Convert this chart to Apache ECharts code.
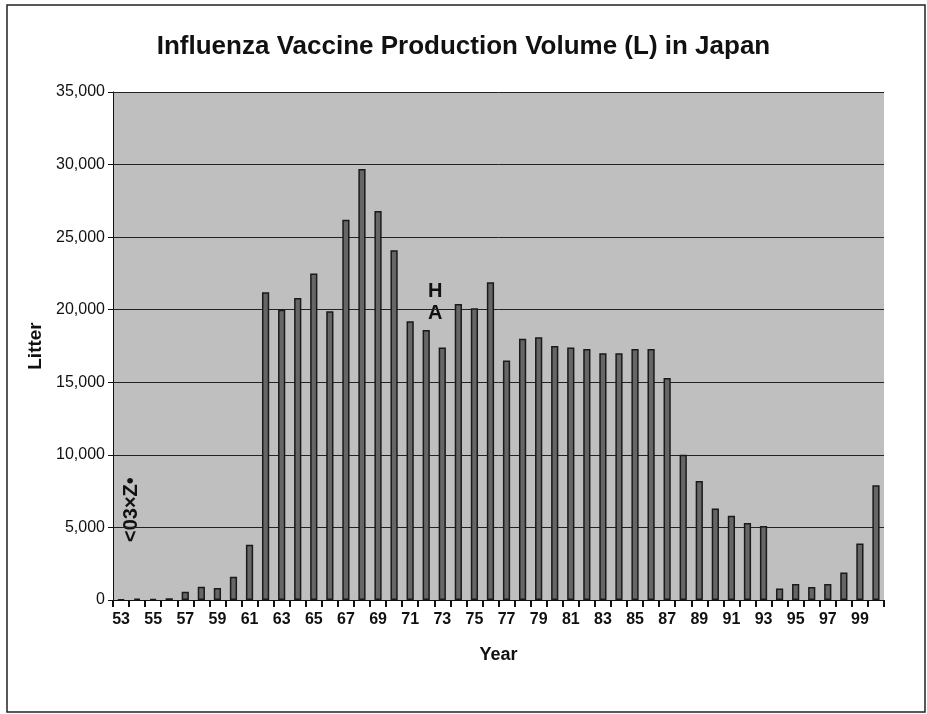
<!DOCTYPE html>
<html>
<head>
<meta charset="utf-8">
<script src="https://cdn.jsdelivr.net/npm/echarts@6/dist/echarts.min.js"></script>
<style>
  html, body { margin: 0; padding: 0; background: #fff; }
  #chart { width: 927px; height: 714px; }
</style>
</head>
<body>
<div id="chart"></div>
<script>
// years 1953 - 2000, shown as two digits
const years = ['53','54','55','56','57','58','59','60','61','62',
    '63','64','65','66','67','68','69','70','71','72',
    '73','74','75','76','77','78','79','80','81','82',
    '83','84','85','86','87','88','89','90','91','92',
    '93','94','95','96','97','98','99','00'];

// production volume in litres
const litres = [50, 100, 80, 120, 570, 920, 830, 1600, 3800, 21200,
    20000, 20800, 22500, 19900, 26200, 29700, 26800, 24100, 19200, 18600,
    17400, 20400, 20100, 21900, 16500, 18000, 18100, 17500, 17400, 17300,
    17000, 17000, 17300, 17300, 15300, 10000, 8200, 6300, 5800, 5300,
    5100, 800, 1100, 900, 1100, 1900, 3900, 7900];

const yTicks = [0, 5000, 10000, 15000, 20000, 25000, 30000, 35000];

const fontNarrow = '"Liberation Sans Narrow", "Arial Narrow", "Liberation Sans", Arial, sans-serif';

let chart = echarts.init(document.getElementById('chart'));

let option = {
    backgroundColor: '#ffffff',
    animation: false,
    title: {
        text: 'Influenza Vaccine Production Volume (L) in Japan',
        left: 'center',
        top: 29,
        textStyle: {
            fontFamily: fontNarrow,
            fontWeight: 'bold',
            fontSize: 26,
            color: '#111'
        }
    },
    grid: {
        left: 113,
        right: 43,
        top: 92,
        bottom: 114,
        show: true,
        backgroundColor: '#bfbfbf',
        borderWidth: 0
    },
    xAxis: {
        type: 'category',
        data: years,
        name: 'Year',
        nameLocation: 'middle',
        nameGap: 46,
        nameTextStyle: {
            fontFamily: fontNarrow,
            fontWeight: 'bold',
            fontSize: 18,
            color: '#111'
        },
        axisLine: { lineStyle: { color: '#111', width: 1 } },
        axisTick: { show: true, interval: 0, length: 7, lineStyle: { color: '#111', width: 2 } },
        axisLabel: {
            interval: 1,
            margin: 12,
            fontFamily: fontNarrow,
            fontWeight: 'bold',
            fontSize: 16,
            color: '#111'
        }
    },
    yAxis: {
        type: 'value',
        min: yTicks[0],
        max: yTicks[yTicks.length - 1],
        interval: 5000,
        name: 'Litter',
        nameLocation: 'middle',
        nameGap: 62,
        nameTextStyle: {
            fontFamily: fontNarrow,
            fontWeight: 'bold',
            fontSize: 19,
            color: '#111'
        },
        axisLine: { show: true, lineStyle: { color: '#111', width: 1 } },
        axisTick: { show: true, length: 5, lineStyle: { color: '#111' } },
        axisLabel: {
            margin: 8,
            fontFamily: fontNarrow,
            fontSize: 16,
            color: '#111',
            formatter: (v) => v.toLocaleString('en-US')
        },
        splitLine: { show: true, lineStyle: { color: '#222', width: 1 } }
    },
    series: [
        {
            type: 'bar',
            data: litres,
            barWidth: '45%',
            itemStyle: {
                color: '#666666',
                borderColor: '#1a1a1a',
                borderWidth: 1.5
            }
        }
    ],
    graphic: [
        {
            type: 'rect',
            shape: { x: 7, y: 5, width: 918, height: 707 },
            style: { fill: 'none', stroke: '#222', lineWidth: 1.5 },
            silent: true
        },
        {
            type: 'text',
            left: 428,
            top: 280,
            style: {
                text: 'H\nA',
                fontFamily: fontNarrow,
                fontWeight: 'bold',
                fontSize: 20,
                lineHeight: 22,
                fill: '#111'
            }
        },
        {
            type: 'text',
            x: 121,
            y: 542,
            rotation: Math.PI / 2,
            style: {
                text: '<03×Z•',
                fontFamily: fontNarrow,
                fontWeight: 'bold',
                fontSize: 20,
                fill: '#111'
            }
        }
    ]
};

chart.setOption(option);
</script>
</body>
</html>
